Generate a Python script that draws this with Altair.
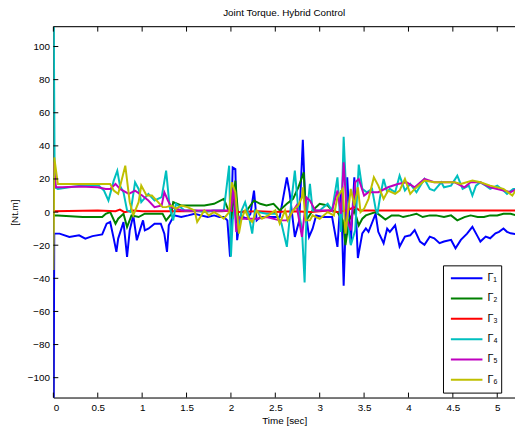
import altair as alt
import pandas as pd

# ---- data ----
SERIES = ["Γ₁", "Γ₂", "Γ₃", "Γ₄", "Γ₅", "Γ₆"]
COLORS = ["#0000ff", "#008000", "#ff0000", "#00bfbf", "#bf00bf", "#bfbf00"]

X_TICKS = [0, 0.5, 1, 1.5, 2, 2.5, 3, 3.5, 4, 4.5, 5]
Y_TICKS = [-100, -80, -60, -40, -20, 0, 20, 40, 60, 80, 100]

T1 = [0, 0.01, 0.04, 0.07, 0.18, 0.29, 0.36, 0.44, 0.55, 0.60, 0.64, 0.68, 0.71, 0.73, 0.79, 0.83, 0.86, 0.90,
      0.94, 0.98, 1.01, 1.03, 1.07, 1.14, 1.21, 1.25, 1.28, 1.30, 1.36, 1.44, 1.52, 1.59, 1.66, 1.74, 1.81, 1.87,
      1.92, 1.96, 1.99, 2.02, 2.05, 2.07, 2.10, 2.14, 2.18, 2.22, 2.26, 2.29, 2.33, 2.40, 2.47, 2.55, 2.59, 2.63,
      2.66, 2.72, 2.77, 2.81, 2.84, 2.88, 2.92, 2.96, 3.03, 3.09, 3.14, 3.20, 3.24, 3.27, 3.31, 3.35, 3.39, 3.43,
      3.48, 3.52, 3.55, 3.63, 3.66, 3.72, 3.76, 3.79, 3.85, 3.90, 3.96, 4.02, 4.07, 4.13, 4.18, 4.24, 4.29, 4.35,
      4.40, 4.48, 4.53, 4.59, 4.66, 4.72, 4.78, 4.81, 4.87, 4.92, 4.98, 5.02, 5.07, 5.11, 5.15, 5.22]
V1 = [-160, -13, -13, -13, -15, -14, -16, -14.5, -13.5, -7, -6, -16, -24, -16, -6, -27, -11, -2,
      -17, -10, -5, -11, -10, -7, -7, -13, -24, -8, -2, -3, -2, -1, -2, -3, -2, -3,
      -3, -5, -27, 27, 26, -17, -5, -3, -4, -1, 13, -5, -3, -3, -3, -3, 9, 21,
      12, -15, -5, 43.6, 1, -15, -10, -2, -3, -3, -3, -21, 13, -44.5, 21, -19, 21, -27.7,
      -12.8, -9.9, -11.9, -1, -11.9, -18.8, -10, -12, -8, -20.8, -14.8, -14, -10.9, -17.8, -19.8, -14.8, -15.8, -18.8,
      -17.8, -16.8, -21.8, -16.8, -13, -8.9, -14.8, -17.8, -14.8, -15.8, -12.8, -11.9, -9.9, -11.9, -12.8, -13.4]

T2 = [0, 0.05, 0.33, 0.55, 0.59, 0.64, 0.70, 0.73, 0.79, 0.83, 0.88, 0.96, 1.03, 1.14, 1.23, 1.27, 1.33, 1.35,
      1.44, 1.59, 1.70, 1.81, 1.92, 1.98, 2.01, 2.05, 2.09, 2.12, 2.18, 2.26, 2.33, 2.40, 2.48, 2.55, 2.63, 2.70,
      2.76, 2.82, 2.85, 2.92, 3.0, 3.09, 3.14, 3.20, 3.26, 3.29, 3.33, 3.39, 3.44, 3.48, 3.52, 3.63, 3.68, 3.74,
      3.81, 3.89, 3.94, 4.02, 4.09, 4.16, 4.24, 4.31, 4.40, 4.48, 4.55, 4.63, 4.70, 4.78, 4.85, 4.92, 5.0, 5.07,
      5.15, 5.22]
V2 = [-2, -2, -3, -3, -1, 0, -7, -4, -1, -9, -2, -3, -1, -1, -1, -5, -1, 6,
      4, 4, 4, 5, 8, 0, -3, 19, -8, 0, 1, 7, 5, 4, 5, 1, 5, 8,
      15, 24, -5, 1, 5, 4, 1, 0, -5, -20, -5, 1, -8, -4, -2, 0, -2, -4.5,
      -2, -2, -3, -2, -1, -3, -2, -2, -3, -2, -5, -3, -2, -3, -3, -2, -2, -1,
      -1, -2]

T3 = [0, 0.5, 0.7, 0.75, 0.8, 0.9, 1.0, 1.3, 1.6, 1.9, 2.0, 2.1, 2.3, 2.5, 2.7, 2.9, 3.1, 3.2, 3.3, 3.35,
      3.4, 3.45, 3.5, 4.0, 4.5, 5.22]
V3 = [0.5, 1, 0.5, 1.5, 0, 1, 0.5, 0.5, 0.5, 0.5, 1, 0, 0.5, 0, 0.5, 0, 1, 0, 1, 2,
      3, 1, 1, 1, 1, 1]

T4 = [0, 0.015, 0.05, 0.18, 0.33, 0.44, 0.51, 0.57, 0.62, 0.68, 0.72, 0.75, 0.79, 0.83, 0.87, 0.92, 0.96, 0.99,
      1.07, 1.14, 1.22, 1.27, 1.31, 1.35, 1.38, 1.48, 1.6, 1.7, 1.8, 1.92, 1.98, 2.00, 2.02, 2.05, 2.09, 2.12,
      2.16, 2.20, 2.24, 2.27, 2.31, 2.40, 2.51, 2.57, 2.63, 2.68, 2.72, 2.76, 2.80, 2.83, 2.85, 2.89, 2.92, 3.0,
      3.09, 3.14, 3.20, 3.24, 3.27, 3.31, 3.35, 3.40, 3.44, 3.48, 3.53, 3.59, 3.63, 3.65, 3.68, 3.72, 3.76, 3.79,
      3.85, 3.90, 3.96, 4.02, 4.09, 4.18, 4.24, 4.29, 4.37, 4.40, 4.48, 4.55, 4.61, 4.68, 4.72, 4.76, 4.81, 4.87,
      4.92, 5.0, 5.07, 5.11, 5.18, 5.22]
V4 = [160, 15, 14, 15, 16, 16, 16, 13, 7, 19, 25, 16, 12, 1, 0, 18, 14, 6,
      11, 7, 9, 25, 3, -5, 5, 1, 1, 0, 1, 1, 28, -27, -5, 6, -9, 1,
      6, -2, -13, 1, 0, -1, -1, -7, -21, 6, 25, 1, -10, -42.5, -4, 17, 1, 1,
      5, 1, 21, -12, 45.5, -3, -20, -11, 28.7, 14, 12, 14, 2, -1, 9, 20, 12, 14,
      12, 22, 13, 17, 12, 20, 14, 13, 18, 15, 16, 22, 14, 16, 10, 16, 18, 16,
      14, 16, 13, 11, 14, 14]

T5 = [0, 0.03, 0.1, 0.3, 0.5, 0.59, 0.64, 0.70, 0.75, 0.85, 0.92, 1.0, 1.07, 1.14, 1.22, 1.25, 1.29, 1.33,
      1.45, 1.6, 1.75, 1.9, 2.0, 2.03, 2.06, 2.09, 2.12, 2.2, 2.3, 2.4, 2.55, 2.63, 2.74, 2.80, 2.85, 2.89,
      2.95, 3.05, 3.14, 3.20, 3.24, 3.27, 3.31, 3.35, 3.40, 3.44, 3.50, 3.55, 3.66, 3.77, 3.88, 3.98, 4.07, 4.18,
      4.29, 4.40, 4.52, 4.63, 4.70, 4.81, 4.92, 5.07, 5.15, 5.22]
V5 = [30, 15, 15, 15.5, 15, 14, 14, 17, 14, 11, 13, 10, 7, 3, 4, 12, 7, 3,
      1, 1, 1, 1, 1, 15, -12, -3, -4, -4, -4, -3, -5, -5, 4, -15, 9, 7,
      1, 1, 1, 13, -1, 30, -5, -11, 18, 20, 10, 12, 12, 15, 17, 18, 15, 20,
      18, 18, 18, 15, 18, 18, 15, 13, 12, 14]

T6 = [0, 0.01, 0.05, 0.2, 0.4, 0.64, 0.68, 0.73, 0.81, 0.86, 0.90, 0.96, 0.99, 1.05, 1.11, 1.18, 1.23, 1.27,
      1.33, 1.38, 1.44, 1.51, 1.59, 1.62, 1.70, 1.75, 1.81, 1.87, 1.92, 1.98, 2.01, 2.05, 2.09, 2.12, 2.16, 2.20,
      2.24, 2.29, 2.35, 2.42, 2.50, 2.55, 2.61, 2.64, 2.70, 2.76, 2.80, 2.81, 2.84, 2.89, 2.92, 3.0, 3.09, 3.16,
      3.20, 3.26, 3.29, 3.35, 3.39, 3.43, 3.46, 3.50, 3.55, 3.61, 3.66, 3.72, 3.77, 3.85, 3.90, 3.96, 4.02, 4.07,
      4.18, 4.29, 4.40, 4.52, 4.59, 4.72, 4.81, 4.92, 5.07, 5.17, 5.22]
V6 = [-35, 33, 17, 17, 17, 17, 13, 11, 28, 6, -2, 6, 16, 10, 10, 6, 3, 3,
      4, 2, 4, 3, 1, -6, 1, -2, 0, -2, -4, 0, 18, 12, -13, -4, 1, -4,
      -6, 1, -4, -2, 1, -7, 1, -5, 1, 4, 9, 15, -5, -5, -2, -4, 0, -2,
      9, 14, -13, 14, 4, 15, 0, 2, 8, 21, 16, 8, 13, 11, 13, 20, 11, 14,
      19, 18, 18, 18, 17, 19, 18, 16, 14, 10, 14]

TS = [T1, T2, T3, T4, T5, T6]
VS = [V1, V2, V3, V4, V5, V6]

rows = []
for k, (name, ts, vs) in enumerate(zip(SERIES, TS, VS)):
    assert len(ts) == len(vs), (name, len(ts), len(vs))
    for t, v in zip(ts, vs):
        rows.append({"t": t, "v": v, "s": name, "k": k})
df = pd.DataFrame(rows)

W, H = 468, 376
FONT = "Liberation Sans"
xs = alt.Scale(domain=[0, 5.2], nice=False, zero=False)
ys = alt.Scale(domain=[-112, 112], nice=False, zero=False)

AX = alt.Axis(
    values=X_TICKS, format="~g", ticks=False, grid=False, title="Time [sec]",
    domainColor="black", labelColor="black", titleColor="black",
    labelFont=FONT, labelFontSize=10, titleFont=FONT, titleFontSize=10,
    titleFontWeight="normal", labelPadding=5, titlePadding=3)
AY = alt.Axis(
    values=Y_TICKS, ticks=False, grid=False, title="[Nt.m]",
    domainColor="black", labelColor="black", titleColor="black",
    labelFont=FONT, labelFontSize=10, titleFont=FONT, titleFontSize=10,
    titleFontWeight="normal", labelPadding=4, titlePadding=8)

lines = alt.Chart(df).mark_line(strokeWidth=2, clip=True).encode(
    x=alt.X("t:Q", scale=xs, axis=AX),
    y=alt.Y("v:Q", scale=ys, axis=AY),
    color=alt.Color("s:N", scale=alt.Scale(domain=SERIES, range=COLORS), legend=alt.Legend(
        orient="none", legendX=395, legendY=242, title=None,
        symbolType="stroke", symbolSize=1024, symbolStrokeWidth=2,
        strokeColor="black", fillColor="white", padding=3, cornerRadius=0,
        clipHeight=20, rowPadding=0.6, symbolOffset=4,
        labelFont=FONT, labelFontSize=11, labelColor="black", labelOffset=4)),
    order=alt.Order("k:Q"),
)

xt = pd.DataFrame({"t": X_TICKS})
yt = pd.DataFrame({"v": Y_TICKS})
one = pd.DataFrame({"a": [0]})

bottom_ticks = alt.Chart(xt).mark_rule(color="black", strokeWidth=1).encode(
    x=alt.X("t:Q", scale=xs, axis=AX), y=alt.value(H), y2=alt.value(H - 5))
top_ticks = alt.Chart(xt).mark_rule(color="black", strokeWidth=1).encode(
    x=alt.X("t:Q", scale=xs, axis=AX), y=alt.value(0), y2=alt.value(5))
left_ticks = alt.Chart(yt).mark_rule(color="black", strokeWidth=1).encode(
    y=alt.Y("v:Q", scale=ys, axis=AY), x=alt.value(0), x2=alt.value(5))
top_line = alt.Chart(one).mark_rule(color="black", strokeWidth=1).encode(
    x=alt.value(0), x2=alt.value(W), y=alt.value(0))

chart = alt.layer(lines, bottom_ticks, top_ticks, left_ticks, top_line).properties(
    width=W, height=H,
    title=alt.Title("Joint Torque. Hybrid Control", font=FONT, fontSize=10,
                    fontWeight="normal", color="black", offset=8),
    autosize=alt.AutoSizeParams(type="none"),
    padding={"left": 46, "top": 16, "right": 0, "bottom": 30},
).configure_view(stroke=None).configure(background="white")

chart.save("out.html", embed_options={"renderer": "svg", "actions": False})
